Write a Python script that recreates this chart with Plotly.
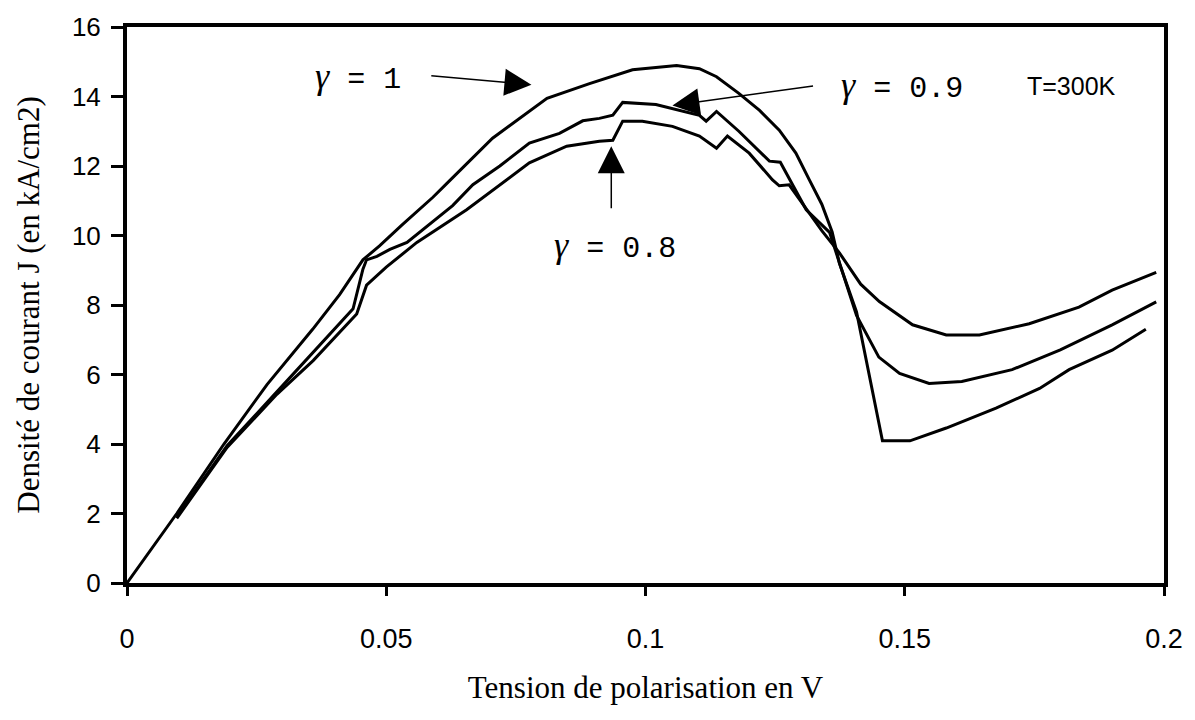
import plotly.graph_objects as go

# gamma = 1
v_g10 = [0, 0.0096, 0.0187, 0.027, 0.0358, 0.041, 0.0455, 0.0487, 0.053, 0.059, 0.0617,
         0.0705, 0.081, 0.0892, 0.0975, 0.106, 0.1104, 0.1137, 0.118, 0.122, 0.1258,
         0.129, 0.1316, 0.134, 0.136, 0.1374, 0.1407, 0.1432, 0.1457, 0.151, 0.158,
         0.1676, 0.176, 0.1817, 0.19, 0.1965]
j_g10 = [0, 2.0, 4.0, 5.71, 7.3, 8.3, 9.3, 9.7, 10.3, 11.1, 11.5,
         12.8, 13.95, 14.37, 14.77, 14.89, 14.8, 14.57, 14.09, 13.6, 13.03,
         12.37, 11.6, 10.9, 10.1, 9.2, 7.8, 5.9, 4.09, 4.09, 4.46,
         5.03, 5.6, 6.14, 6.7, 7.3]

# gamma = 0.9
v_g09 = [0.0096, 0.0193, 0.0289, 0.0347, 0.0436, 0.0455, 0.0462, 0.0482, 0.0507, 0.054,
         0.0628, 0.0667, 0.0719, 0.0776, 0.0834, 0.0879, 0.0911, 0.0937, 0.0956, 0.102,
         0.1104, 0.1117, 0.1137, 0.118, 0.1239, 0.126, 0.131, 0.1355, 0.1374, 0.1407,
         0.145, 0.149, 0.1547, 0.161, 0.1707, 0.180, 0.19, 0.1985]
j_g09 = [1.9, 3.95, 5.5, 6.45, 7.89, 9.03, 9.3, 9.4, 9.6, 9.8,
         10.86, 11.46, 12.0, 12.66, 12.94, 13.3, 13.37, 13.46, 13.83, 13.77,
         13.46, 13.29, 13.57, 13.0, 12.14, 12.11, 10.74, 10.09, 9.2, 7.7,
         6.5, 6.03, 5.74, 5.8, 6.14, 6.71, 7.43, 8.09]

# gamma = 0.8
v_g08 = [0.0096, 0.0193, 0.0289, 0.0359, 0.0443, 0.0462, 0.05, 0.0559, 0.0655, 0.0776,
         0.0848, 0.0911, 0.0937, 0.0956, 0.0994, 0.1052, 0.1104, 0.1137, 0.1158, 0.12,
         0.1245, 0.1258, 0.1277, 0.134, 0.1374, 0.1415, 0.1451, 0.1515, 0.158, 0.1644,
         0.174, 0.1836, 0.19, 0.1985]
j_g08 = [1.86, 3.9, 5.43, 6.4, 7.74, 8.57, 9.09, 9.8, 10.74, 12.09,
         12.57, 12.71, 12.74, 13.29, 13.29, 13.14, 12.86, 12.51, 12.86, 12.37,
         11.6, 11.43, 11.46, 10.14, 9.5, 8.6, 8.1, 7.43, 7.14, 7.14,
         7.46, 7.94, 8.43, 8.94]

x_ticks = [0, 0.05, 0.1, 0.15, 0.2]
x_tick_labels = ["0", "0.05", "0.1", "0.15", "0.2"]
y_ticks = [0, 2, 4, 6, 8, 10, 12, 14, 16]

fig = go.Figure()
for name, vx, jy in [("γ = 1", v_g10, j_g10), ("γ = 0.9", v_g09, j_g09), ("γ = 0.8", v_g08, j_g08)]:
    fig.add_trace(go.Scatter(x=vx, y=jy, mode="lines", name=name,
                             line=dict(color="black", width=3), showlegend=False))

GAM = "<span style='font-family:\"Liberation Serif\";font-style:italic;font-size:36px'>γ</span>"
mono = dict(family="Liberation Mono", size=30, color="black")

labels = [
    (GAM + " = 1", 0.0445, 14.57, mono),
    (GAM + " = 0.9", 0.1495, 14.31, mono),
    (GAM + " = 0.8", 0.0942, 9.71, mono),
    ("T=300K", 0.1821, 14.31, dict(family="Liberation Sans", size=25, color="black")),
]
for txt, lx, ly, f in labels:
    fig.add_annotation(x=lx, y=ly, xref="x", yref="y", text=txt, showarrow=False,
                       font=f, xanchor="center", yanchor="middle")

arrows = [
    ((0.0584, 14.6), (0.078, 14.34)),
    ((0.1326, 14.31), (0.1052, 13.74)),
    ((0.0934, 10.74), (0.0934, 12.57)),
]
for (tx, ty), (hx, hy) in arrows:
    fig.add_annotation(x=hx, y=hy, ax=tx, ay=ty, xref="x", yref="y", axref="x", ayref="y",
                       text="", showarrow=True, arrowhead=2, arrowsize=3.6, arrowwidth=1.5,
                       arrowcolor="black", standoff=0, startstandoff=0)

fig.update_layout(
    width=1195, height=720,
    margin=dict(l=127, r=29, t=23, b=137),
    paper_bgcolor="white", plot_bgcolor="white",
    font=dict(family="Liberation Sans", color="black"),
)
fig.update_xaxes(
    range=[0, 0.2], tickvals=x_ticks, ticktext=x_tick_labels,
    showgrid=False, zeroline=False, showline=True, linewidth=4, linecolor="black", mirror=True,
    ticks="outside", ticklen=9, tickwidth=3, tickcolor="black",
    tickfont=dict(family="Liberation Sans", size=27, color="black"), ticklabelstandoff=20,
    title=dict(text="Tension de polarisation en V",
               font=dict(family="Liberation Serif", size=31, color="black"), standoff=24),
)
fig.update_yaxes(
    range=[0, 16], tickvals=y_ticks,
    showgrid=False, zeroline=False, showline=True, linewidth=4, linecolor="black", mirror=True,
    ticks="outside", ticklen=12, tickwidth=3, tickcolor="black",
    tickfont=dict(family="Liberation Sans", size=26, color="black"), ticklabelstandoff=5,
    title=dict(text="Densité de courant J (en kA/cm2)",
               font=dict(family="Liberation Serif", size=31, color="black"), standoff=24),
)

fig.write_html("out.html")
